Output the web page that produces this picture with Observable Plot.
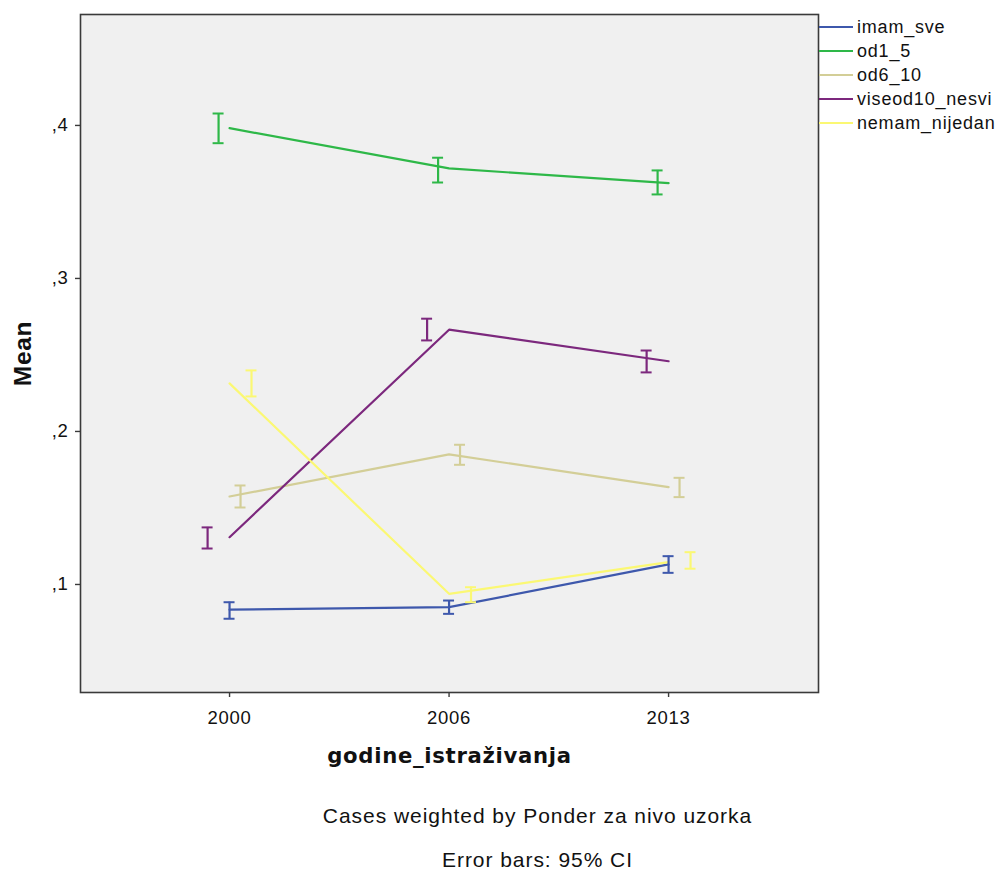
<!DOCTYPE html>
<html><head><meta charset="utf-8">
<script src="https://cdn.jsdelivr.net/npm/d3@7"></script>
<script src="https://cdn.jsdelivr.net/npm/@observablehq/plot@0.6"></script>
<style>
body{margin:0;background:#fff;font-family:"Liberation Sans",Arial,sans-serif;}
#wrap{position:relative;width:995px;height:870px;overflow:hidden;}
#chart{position:absolute;left:0;top:0;}
.legend{position:absolute;left:819px;top:15px;}
.row{position:absolute;left:0;height:24px;display:flex;align-items:center;white-space:nowrap;font-size:18px;letter-spacing:0.8px;color:#111;}
.sw{display:inline-block;width:34px;height:0;border-top:2px solid;margin-right:4px;}
.cap{position:absolute;left:80px;width:915px;text-align:center;font-size:21px;letter-spacing:0.95px;color:#111;line-height:24px;}
</style></head><body><div id="wrap"><div id="chart"></div></div>
<script>
const years = ["2000", "2006", "2013"];
const seriesNames = ["imam_sve", "od1_5", "od6_10", "viseod10_nesvi", "nemam_nijedan"];
const seriesColors = ["#3E58AC", "#2EB848", "#D3CE97", "#7C287D", "#FBF873"];

// means per year (2000, 2006, 2013)
const imamSveMean = [0.0835, 0.0852, 0.1131];
const od1_5Mean = [0.3982, 0.3719, 0.3623];
const od6_10Mean = [0.1575, 0.1850, 0.1636];
const viseod10Mean = [0.1309, 0.2665, 0.2459];
const nemamMean = [0.2314, 0.0939, 0.1146];

// 95% CI lower / upper
const imamSveLo = [0.0776, 0.0808, 0.1076];
const imamSveHi = [0.0884, 0.0895, 0.1185];
const od1_5Lo = [0.3884, 0.3627, 0.3549];
const od1_5Hi = [0.4078, 0.3789, 0.3706];
const od6_10Lo = [0.1503, 0.1782, 0.1571];
const od6_10Hi = [0.1647, 0.1913, 0.1697];
const viseod10Lo = [0.1235, 0.2595, 0.2386];
const viseod10Hi = [0.1373, 0.2737, 0.2529];
const nemamLo = [0.2229, 0.0884, 0.1103];
const nemamHi = [0.2399, 0.0982, 0.1211];

const yTicks = [0.1, 0.2, 0.3, 0.4];

// build tables
const means = [imamSveMean, od1_5Mean, od6_10Mean, viseod10Mean, nemamMean];
const los = [imamSveLo, od1_5Lo, od6_10Lo, viseod10Lo, nemamLo];
const his = [imamSveHi, od1_5Hi, od6_10Hi, viseod10Hi, nemamHi];
const dodge = [0, -0.05, 0.05, -0.1, 0.1]; // error bar offset (category units)
const capHalf = 0.025;

const lineData = [], barData = [];
seriesNames.forEach((s, k) => {
  years.forEach((yr, i) => {
    lineData.push({s, k, i, v: means[k][i]});
    barData.push({s, k, i, xb: i + dodge[k], lo: los[k][i], hi: his[k][i]});
  });
});

const axisColor = "#3a3a3a";
const plot = Plot.plot({
  width: 995, height: 780,
  marginLeft: 80, marginTop: 14, marginRight: 177, marginBottom: 88,
  style: {fontFamily: "Liberation Sans, Arial, sans-serif", background: "transparent", letterSpacing: "0.7px", color: "#111"},
  x: {domain: [-0.679, 2.683], axis: null},
  y: {domain: [0.0294, 0.4725], axis: null},
  color: {domain: seriesNames, range: seriesColors},
  marks: [
    Plot.frame({fill: "#f0f0f0"}),
    ...seriesNames.map((s, k) => Plot.line(lineData.filter(d => d.k === k), {x: "i", y: "v", stroke: seriesColors[k], strokeWidth: 2.2})),
    Plot.ruleX(barData, {x: "xb", y1: "lo", y2: "hi", stroke: "s", strokeWidth: 2.2}),
    Plot.ruleY(barData, {y: "lo", x1: d => d.xb - capHalf, x2: d => d.xb + capHalf, stroke: "s", strokeWidth: 2}),
    Plot.ruleY(barData, {y: "hi", x1: d => d.xb - capHalf, x2: d => d.xb + capHalf, stroke: "s", strokeWidth: 2}),
    Plot.frame({stroke: axisColor, strokeWidth: 1.6}),
    Plot.axisY({ticks: yTicks, tickFormat: d => "," + Math.round(d * 10), tickSize: 5, tickPadding: 7, fontSize: 18.5, label: null, stroke: axisColor, strokeWidth: 1.4}),
    Plot.axisX({ticks: [0, 1, 2], tickFormat: i => years[i], tickSize: 5, tickPadding: 13, fontSize: 18.5, label: null, stroke: axisColor, strokeWidth: 1.4}),
    Plot.text(["Mean"], {frameAnchor: "left", dx: -57, rotate: -90, textAnchor: "middle", fontSize: 24.5, fontWeight: "bold", fill: "#111", letterSpacing: "1px"}),
    Plot.text(["godine_istraživanja"], {frameAnchor: "bottom", dy: 70, fontSize: 21.2, fontWeight: "bold", fill: "#111", fontFamily: "DejaVu Sans"})
  ]
});
document.getElementById("chart").appendChild(plot);

const wrap = document.getElementById("wrap");
const leg = document.createElement("div");
leg.className = "legend";
seriesNames.forEach((s, k) => {
  const r = document.createElement("div");
  r.className = "row";
  r.style.top = (k * 24) + "px";
  r.innerHTML = `<span class="sw" style="border-color:${seriesColors[k]}"></span><span>${s}</span>`;
  leg.appendChild(r);
});
wrap.appendChild(leg);

const captions = ["Cases weighted by Ponder za nivo uzorka", "Error bars: 95% CI"];
const capCenters = [816, 860];
captions.forEach((t, j) => {
  const c = document.createElement("div");
  c.className = "cap";
  c.style.top = (capCenters[j] - 12) + "px";
  c.textContent = t;
  wrap.appendChild(c);
});
</script></body></html>
